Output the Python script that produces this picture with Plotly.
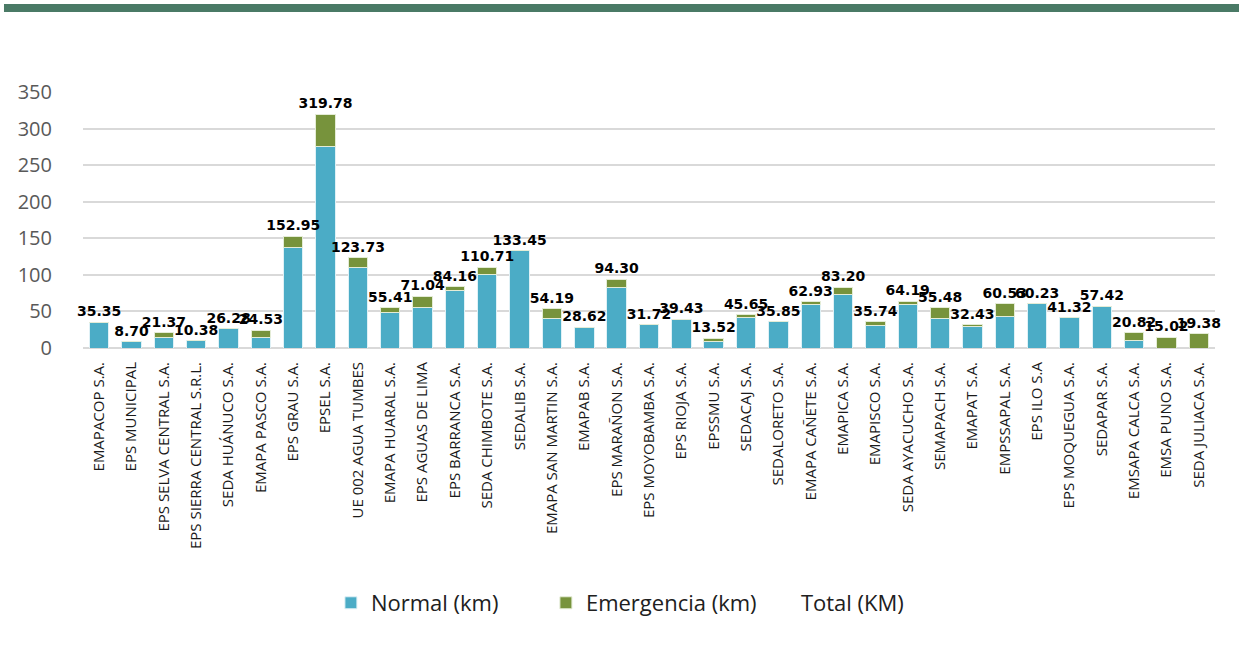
import plotly.graph_objects as go

empresas = [
    "EMAPACOP S.A.", "EPS MUNICIPAL", "EPS SELVA CENTRAL S.A.", "EPS SIERRA CENTRAL S.R.L.",
    "SEDA HUÁNUCO S.A.", "EMAPA PASCO S.A.", "EPS GRAU S.A.", "EPSEL S.A.",
    "UE 002 AGUA TUMBES", "EMAPA HUARAL S.A.", "EPS AGUAS DE LIMA", "EPS BARRANCA S.A.",
    "SEDA CHIMBOTE S.A.", "SEDALIB S.A.", "EMAPA SAN MARTIN S.A.", "EMAPAB S.A.",
    "EPS MARAÑON S.A.", "EPS MOYOBAMBA S.A.", "EPS RIOJA S.A.", "EPSSMU S.A.",
    "SEDACAJ S.A.", "SEDALORETO S.A.", "EMAPA CAÑETE S.A.", "EMAPICA S.A.",
    "EMAPISCO S.A.", "SEDA AYACUCHO S.A.", "SEMAPACH S.A.", "EMAPAT S.A.",
    "EMPSSAPAL S.A.", "EPS ILO S.A", "EPS MOQUEGUA S.A.", "SEDAPAR S.A.",
    "EMSAPA CALCA S.A.", "EMSA PUNO S.A.", "SEDA JULIACA S.A.",
]

total_km = [
    35.35, 8.70, 21.37, 10.38, 26.28, 24.53, 152.95, 319.78, 123.73, 55.41,
    71.04, 84.16, 110.71, 133.45, 54.19, 28.62, 94.30, 31.72, 39.43, 13.52,
    45.65, 35.85, 62.93, 83.20, 35.74, 64.19, 55.48, 32.43, 60.53, 60.23,
    41.32, 57.42, 20.82, 15.02, 19.38,
]

normal_km = [
    35.35, 8.70, 15.0, 10.38, 26.28, 15.0, 138.0, 275.0, 110.7, 48.5,
    54.7, 78.8, 100.2, 133.45, 40.0, 28.62, 83.4, 31.72, 39.43, 9.0,
    41.8, 35.85, 58.8, 72.9, 30.5, 58.8, 41.0, 29.6, 43.2, 60.23,
    41.32, 57.42, 10.0, 0.0, 0.0,
]

emergencia_km = [round(t - n, 2) for t, n in zip(total_km, normal_km)]

fig = go.Figure()
fig.add_trace(go.Bar(
    x=empresas, y=normal_km, name="Normal (km)",
    marker=dict(color="#4bacc6", line=dict(color="#dff1f6", width=1)),
))
fig.add_trace(go.Bar(
    x=empresas, y=emergencia_km, name="Emergencia (km)",
    marker=dict(color="#77933c", line=dict(color="#e4ecd6", width=1)),
))
# total: only the labels are visible
fig.add_trace(go.Scatter(
    x=empresas, y=total_km, name="Total (KM)", mode="markers+text",
    marker=dict(color="rgba(0,0,0,0)", size=2),
    text=[f"{v:.2f}" for v in total_km], textposition="top center",
    textfont=dict(family="DejaVu Sans", size=14, color="black", weight="bold"),
    cliponaxis=False,
))

fig.update_layout(
    barmode="stack", bargap=0.4,
    width=1239, height=656,
    margin=dict(l=83, r=24, t=92, b=308),
    paper_bgcolor="white", plot_bgcolor="white",
    font=dict(family="Open Sans", color="#404040"),
    legend=dict(
        orientation="h", x=0.219, xanchor="left", y=-0.996, yanchor="middle",
        font=dict(size=22, color="#202020"), entrywidth=170, itemwidth=30,
        traceorder="normal",
    ),
    showlegend=True,
    shapes=[dict(
        type="rect", xref="paper", yref="paper",
        x0=-0.0698, x1=1.0212, y0=1.3125, y1=1.34375,
        fillcolor="#4a7a66", line=dict(width=0),
    )],
)
fig.update_yaxes(
    range=[0, 350], dtick=50, showgrid=True, gridcolor="#d9d9d9", gridwidth=2,
    zeroline=True, zerolinecolor="#d9d9d9", zerolinewidth=2,
    tickfont=dict(size=20, color="#595959"), ticklabelstandoff=30,
    automargin=False,
)
fig.update_xaxes(
    range=[-0.5, 34.5], tickangle=-90,
    tickfont=dict(size=15, color="#1a1a1a"), ticklabelstandoff=10,
    showline=False, automargin=False,
)

fig.write_html(
    "out.html",
    config={"displayModeBar": False},
    post_script="document.body.style.margin='0';",
)
